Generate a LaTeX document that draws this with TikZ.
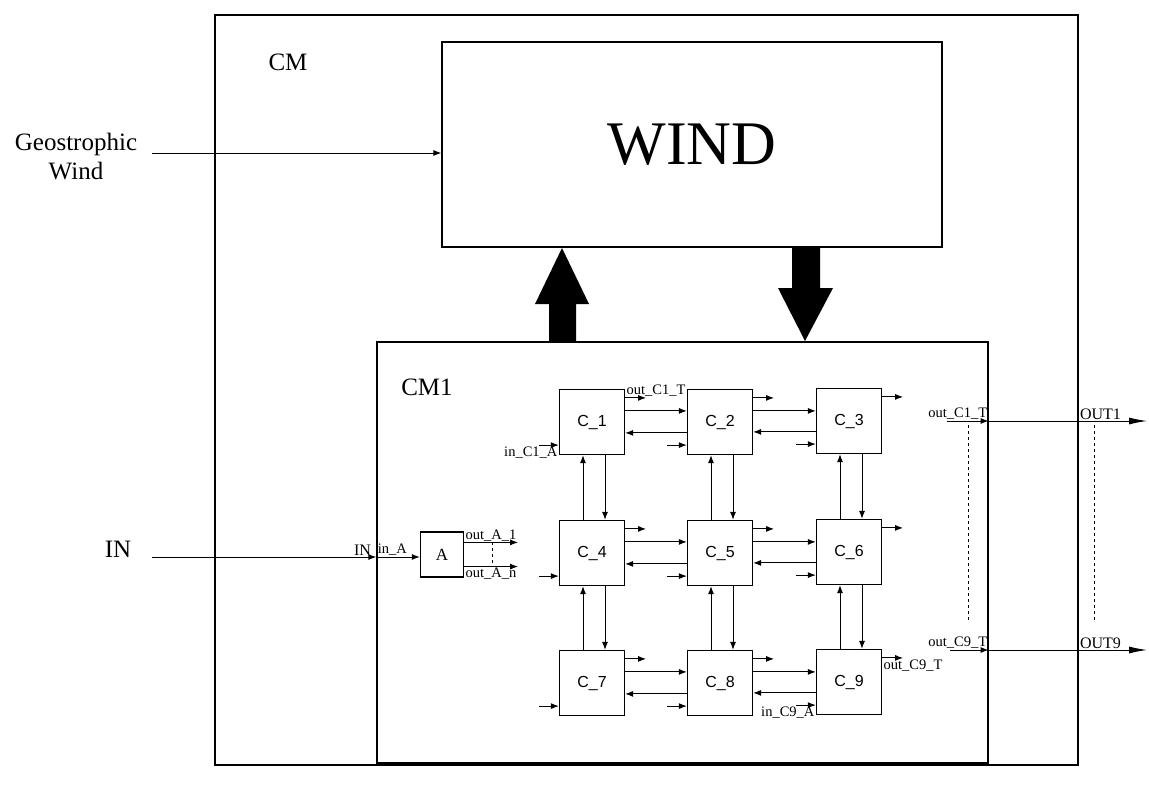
\documentclass[tikz,border=0pt]{standalone}
\usepackage{fontspec}
\setmainfont{Liberation Serif}
\newfontfamily\cellfont{Liberation Sans}
\usetikzlibrary{positioning,arrows.meta,calc}

\begin{document}
\begin{tikzpicture}[x=1pt,y=-1pt,>={Latex[length=8pt,width=6pt]},line width=1pt,
    blk/.style={draw,line width=1.2pt,inner sep=0pt},
    cell/.style={blk,minimum width=65pt,minimum height=65pt,font=\cellfont\fontsize{16}{16}\selectfont},
    port/.style={font=\fontsize{14.5}{14.5}\selectfont,inner sep=1pt},
    biglbl/.style={font=\fontsize{25}{30}\selectfont},
    outlbl/.style={font=\fontsize{16}{16}\selectfont,inner sep=1pt},
    bigtip/.style={-{Latex[length=18pt,width=7pt]}}]
  \useasboundingbox (0,0) rectangle (1149,787);

  \node[blk,minimum width=863pt,minimum height=750pt] (cm) at (646.5,390) {};
  \node[biglbl] (cmlbl) at (288,62) {CM};
  \node[blk,minimum width=500pt,minimum height=205pt,font=\fontsize{62}{62}\selectfont] (wind) at (692,144.5) {WIND};
  \node[blk,minimum width=611pt,minimum height=421pt] (cm1) at (682.5,552.5) {};
  \node[biglbl] (cm1lbl) at (427,387) {CM1};

  \node[biglbl,align=center,font=\fontsize{25}{29}\selectfont] (geo) at (76,157) {Geostrophic\\Wind};
  \coordinate (geoin) at (152,153);
  \draw[->] (geoin) -- (geoin -| wind.west);

  \node[biglbl] (inlbl) at (118,549) {IN};
  \coordinate (inpt) at (152,557);
  \draw[->] (inpt) -- (inpt -| cm1.west);
  \node[port,above left,xshift=-4pt,font=\fontsize{16}{16}\selectfont] (inport) at (inpt -| cm1.west) {IN};

  \node[blk,minimum width=43pt,minimum height=45pt,font=\fontsize{17}{17}\selectfont] (a) at (442,554.5) {A};
  \draw[->] (inpt -| cm1.west) -- (inpt -| a.west);
  \node[port,above right] (ina) at (inpt -| cm1.west) {in\_A};
  \draw[->] ([yshift=-11]a.north east) -- ++(54,0);
  \draw[->] ([yshift=11]a.south east) -- ++(54,0);
  \node[port,above right] (outa1) at ([yshift=-11]a.north east) {out\_A\_1};
  \node[port,below right] (outan) at ([yshift=11]a.south east) {out\_A\_n};
  \draw[dashed] ([xshift=28,yshift=-11]a.north east) -- ([xshift=28,yshift=11]a.south east);

  \foreach \n/\x/\y in {1/592/422,2/720/422,3/849/421,4/592/553,5/720/553,6/849/552,7/592/683,8/720/683,9/849/682}{
    \node[cell] (c\n) at (\x,\y) {C\_\n};
    \draw[->] ([yshift=-9]c\n.north east) -- ++(21,0);
    \draw[<-] ([yshift=10]c\n.south west) -- ++(-20,0);
  }
  \foreach \p/\q in {1/2,2/3,4/5,5/6,7/8,8/9}{
    \draw[->] ([yshift=-22]c\p.north east) -- ([yshift=-22]c\p.north east -| c\q.west);
    \draw[->] ([yshift=-44]c\q.north west) -- ([yshift=-44]c\q.north west -| c\p.east);
  }
  \foreach \p/\q in {1/4,2/5,3/6,4/7,5/8,6/9}{
    \draw[->] ([xshift=-9]c\q.north) -- ([xshift=-9]c\p.south);
    \draw[->] ([xshift=13]c\p.south) -- ([xshift=13]c\q.north);
  }
  \node[port,above right] (outc1) at ([yshift=-9]c1.north east) {out\_C1\_T};
  \node[port,below left] (inc1) at ([yshift=10]c1.south west) {in\_C1\_A};
  \node[port,below right] (outc9) at ([yshift=-9]c9.north east) {out\_C9\_T};
  \node[port,below left] (inc9) at ([yshift=10]c9.south west) {in\_C9\_A};

  \coordinate (o1) at (947,421);
  \coordinate (e1) at (1147,421);
  \draw[->] (o1) -- (o1 -| cm1.east);
  \draw[bigtip] (o1 -| cm1.east) -- (e1);
  \node[port,above left] (p1) at (o1 -| cm1.east) {out\_C1\_T};
  \node[outlbl,above right] (out1) at (o1 -| cm.east) {OUT1};

  \coordinate (o9) at (950,650);
  \coordinate (e9) at (1147,650);
  \draw[->] (o9) -- (o9 -| cm1.east);
  \draw[bigtip] (o9 -| cm1.east) -- (e9);
  \node[port,above left] (p9) at (o9 -| cm1.east) {out\_C9\_T};
  \node[outlbl,above right] (out9) at (o9 -| cm.east) {OUT9};

  \draw[dashed] ([yshift=-4]o1 -| 968,0) -- ([yshift=30]o9 -| 968,0);
  \draw[dashed] ([yshift=-4]o1 -| 1094,0) -- ([yshift=30]o9 -| 1094,0);

  \fill (549,342) -- (549,304) -- (535,304) -- (562,248) -- (589,304) -- (576,304) -- (576,342) -- cycle;
  \fill (792,247) -- (792,288) -- (778,288) -- (805,341) -- (833,288) -- (820,288) -- (820,247) -- cycle;
\end{tikzpicture}
\end{document}
